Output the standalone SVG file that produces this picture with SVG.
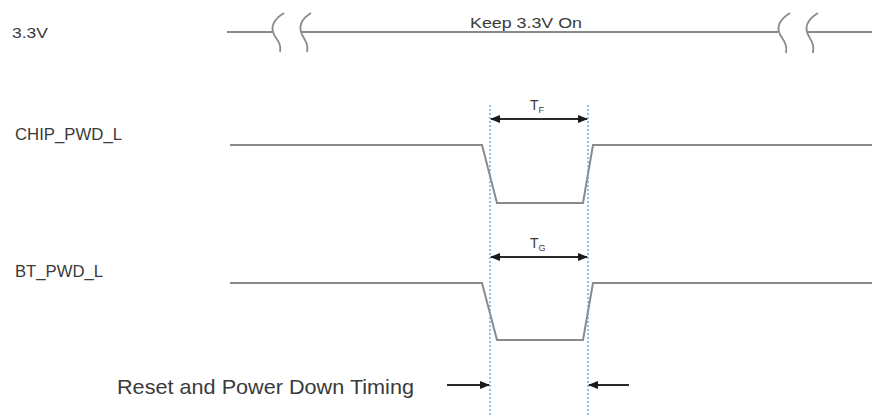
<svg xmlns="http://www.w3.org/2000/svg" width="872" height="417" viewBox="0 0 872 417">
<style>
.lbl{font-family:"Liberation Sans",Arial,sans-serif;fill:#3a3a3a;}
.sig{fill:none;stroke:#8a8a8a;stroke-width:2;}
.brk{fill:none;stroke:#8a8a8a;stroke-width:1.8;}
.guide{stroke:#6fa8dc;stroke-width:1.5;stroke-dasharray:2 2;}
.dim{stroke:#2a2a2a;stroke-width:1.8;}
</style>
<defs>
<marker id="ah" markerWidth="10" markerHeight="8" refX="9" refY="4" orient="auto-start-reverse" markerUnits="userSpaceOnUse">
<path d="M0,0 L10,4 L0,8 Z" fill="#1a1a1a"/>
</marker>
</defs>
<rect width="872" height="417" fill="#ffffff"/>

<g id="v33">
<text class="lbl" x="12" y="38" font-size="15" textLength="36" lengthAdjust="spacingAndGlyphs">3.3V</text>
<path class="sig" d="M227,32 H273"/>
<path class="brk" d="M284,13 C276,18 271,25 273,32 C275,39 282,42 280,52"/>
<path class="brk" d="M311,13 C303,18 299,25 301,32 C303,39 309,42 307,52"/>
<path class="sig" d="M301,32 H778"/>
<path class="brk" d="M790,13 C782,18 777,25 779,32 C781,39 788,42 786,53"/>
<path class="brk" d="M818,13 C810,18 805,25 807,32 C809,39 815,42 813,53"/>
<path class="sig" d="M807,32 H872"/>
<text class="lbl" x="470" y="28" font-size="15" textLength="112" lengthAdjust="spacingAndGlyphs">Keep 3.3V On</text>
</g>

<g id="chip">
<text class="lbl" x="15" y="140" font-size="16" textLength="107" lengthAdjust="spacingAndGlyphs">CHIP_PWD_L</text>
<path class="sig" d="M230,145 H482 L497,203 H583 L593,145 H872"/>
</g>

<g id="bt">
<text class="lbl" x="15" y="277" font-size="16" textLength="88" lengthAdjust="spacingAndGlyphs">BT_PWD_L</text>
<path class="sig" d="M230,283 H482 L497,340 H583 L593,283 H872"/>
</g>

<g id="caption">
<text class="lbl" x="117" y="394" font-size="21" textLength="297" lengthAdjust="spacingAndGlyphs">Reset and Power Down Timing</text>
</g>

<g id="connectors">
<line class="guide" x1="490" y1="105" x2="490" y2="417"/>
<line class="guide" x1="588" y1="105" x2="588" y2="417"/>
<line class="dim" x1="491" y1="119" x2="587" y2="119" marker-start="url(#ah)" marker-end="url(#ah)"/>
<line class="dim" x1="491" y1="257" x2="587" y2="257" marker-start="url(#ah)" marker-end="url(#ah)"/>
<line class="dim" x1="447" y1="385" x2="489" y2="385" marker-end="url(#ah)"/>
<line class="dim" x1="629" y1="385" x2="589" y2="385" marker-end="url(#ah)"/>
</g>

<g id="labels">
<text class="lbl" x="530" y="110" font-size="14">T<tspan font-size="9" dy="3">F</tspan></text>
<text class="lbl" x="530" y="248" font-size="14">T<tspan font-size="9" dy="3">G</tspan></text>
</g>
</svg>
